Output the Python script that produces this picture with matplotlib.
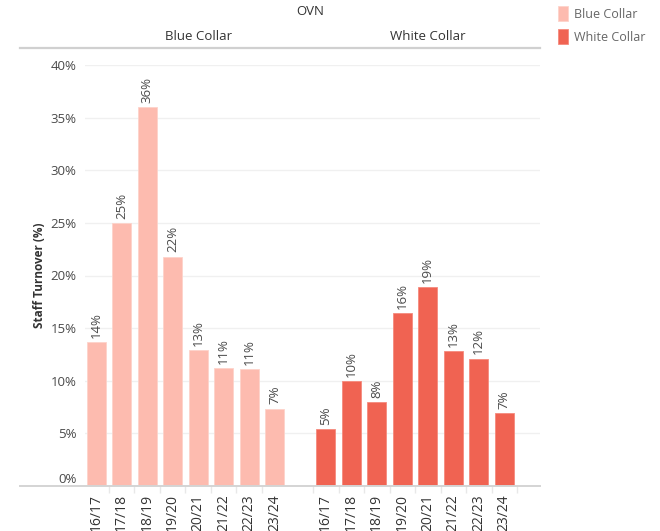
import numpy as np
import matplotlib
matplotlib.use('Agg')
import matplotlib.pyplot as plt
from matplotlib.lines import Line2D
from matplotlib.ticker import FuncFormatter, FixedLocator

plt.rcParams['font.family'] = ['Open Sans', 'DejaVu Sans']

# staff turnover by financial year, OVN
years = ['16/17', '17/18', '18/19', '19/20', '20/21', '21/22', '22/23', '23/24']
blue_collar = [13.7, 25.0, 36.0, 21.8, 12.9, 11.2, 11.1, 7.35]
white_collar = [5.4, 10.0, 8.0, 16.4, 18.9, 12.8, 12.1, 6.9]
panels = ['Blue Collar', 'White Collar']
yticks = [0, 5, 10, 15, 20, 25, 30, 35, 40]

light = '#fdbbaf'
dark = '#f06352'
text_col = '#333333'
tick_col = '#4a4a4a'

W, H = 660, 531
fig = plt.figure(figsize=(W / 100, H / 100), dpi=100)
ax = fig.add_axes([85 / W, 1 - 486 / H, 455 / W, 421 / H])

pos_blue = np.arange(len(years))
pos_white = np.arange(len(years)) + len(years) + 1

b1 = ax.bar(pos_blue, blue_collar, width=0.75, color=light, edgecolor='#fdd3cb',
            linewidth=0.6, label=panels[0], zorder=3)
b2 = ax.bar(pos_white, white_collar, width=0.75, color=dark, edgecolor='#f58a7d',
            linewidth=0.6, label=panels[1], zorder=3)

for bars, vals in [(b1, blue_collar), (b2, white_collar)]:
    ax.bar_label(bars, labels=[f'{v:.0f}%' for v in vals], rotation=90,
                 padding=3, fontsize=9.5, color=tick_col)

ax.set_xlim(-0.44, 17.4)
ax.set_ylim(0, 40)
ax.set_yticks(yticks)
ax.yaxis.set_major_formatter(FuncFormatter(lambda v, p: f'{v:.0f}%'))
ax.tick_params(axis='y', length=0, pad=6, labelsize=9.5, labelcolor=tick_col)
ax.yaxis.get_major_ticks()[0].label1.set_verticalalignment('bottom')
ax.grid(axis='y', color='#f0f0f0', linewidth=1, zorder=0)

ax.set_xticks(np.concatenate([pos_blue, pos_white]))
ax.set_xticklabels(years + years, rotation=90, fontsize=10, color=text_col)
ax.tick_params(axis='x', which='major', length=0, pad=6)
seps = np.concatenate([pos_blue[1:] - 0.5, pos_white - 0.5, [pos_white[-1] + 0.5]])
ax.xaxis.set_minor_locator(FixedLocator(seps))
ax.tick_params(axis='x', which='minor', length=5, color='#e8e8e8', width=1)

for s in ax.spines.values():
    s.set_visible(False)

ax.set_ylabel('Staff Turnover (%)', fontsize=8.5, fontweight='bold', color=text_col)
ax.yaxis.set_label_coords(-0.085, 0.5)

# panel headers
tr = ax.get_xaxis_transform()
ax.text(pos_blue.mean() + 0.5, 1.067, panels[0], transform=tr, ha='center',
        va='center', fontsize=9.5, color=text_col)
ax.text(pos_white.mean() + 0.5, 1.067, panels[1], transform=tr, ha='center',
        va='center', fontsize=9.5, color=text_col)
ax.text(8.4, 1.126, 'OVN', transform=tr, ha='center', va='center',
        fontsize=9.5, color=text_col)

# header rule and baseline
fig.add_artist(Line2D([20 / W, 540 / W], [1 - 48 / H, 1 - 48 / H],
                      color='#d0d0d0', linewidth=1.6))
fig.add_artist(Line2D([20 / W, 540 / W], [1 - 486 / H, 1 - 486 / H],
                      color='#d4d4d4', linewidth=1.4))

fig.legend(handles=[b1, b2], loc='upper left', bbox_to_anchor=(549 / W, 1.005),
           frameon=False, fontsize=9, labelcolor='#666666', handlelength=0.8,
           handleheight=1.5, handletextpad=0.5, labelspacing=0.6, borderpad=0.2)

fig.savefig('out.png', dpi=100)
